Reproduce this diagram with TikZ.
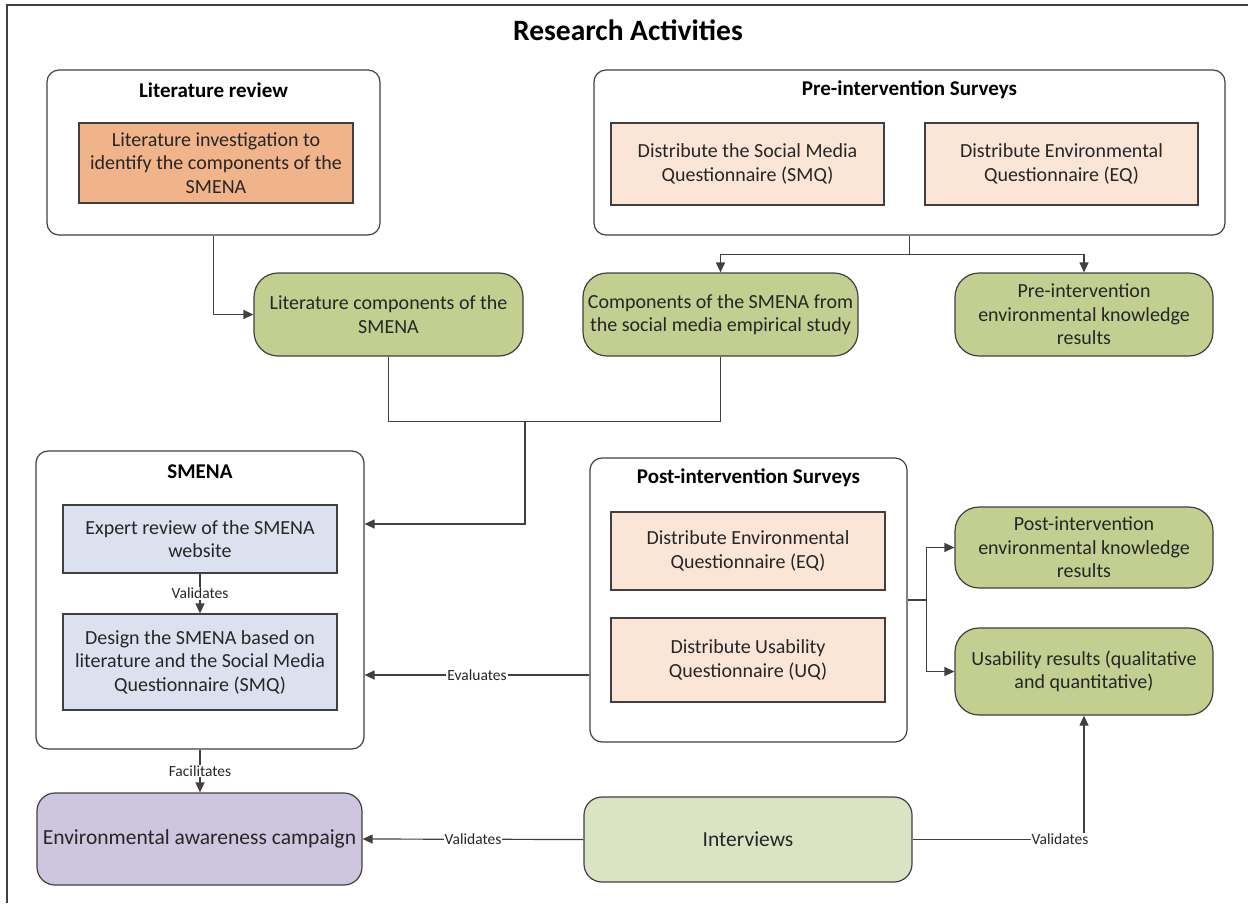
\documentclass[tikz,border=0pt]{standalone}
\usepackage{fontspec}
\setmainfont{Carlito}
\usetikzlibrary{arrows.meta}

\definecolor{linegray}{RGB}{64,64,64}
\definecolor{litorange}{RGB}{241,180,138}
\definecolor{peach}{RGB}{251,229,214}
\definecolor{resgreen}{RGB}{194,207,145}
\definecolor{smenablue}{RGB}{219,225,238}
\definecolor{campurple}{RGB}{205,198,222}
\definecolor{intgreen}{RGB}{218,228,196}

\begin{document}
\begin{tikzpicture}[x=1pt,y=-1pt,
    group/.style={draw=linegray,line width=1.2pt,rounded corners=12pt,fill=white,inner sep=0pt},
    grouptitle/.style={font=\fontsize{21}{25}\selectfont\bfseries},
    task/.style={draw=linegray,line width=1.2pt,align=center,inner sep=2pt,text=black!85,font=\fontsize{20}{23.5}\selectfont},
    result/.style={task,rounded corners=24pt,fill=resgreen},
    lbl/.style={fill=white,inner sep=1pt,text=black!85,font=\fontsize{15.5}{18}\selectfont},
    con/.style={draw=linegray,line width=1.2pt},
    arr/.style={con,-{Triangle[length=10pt,width=9pt]}}]
  \useasboundingbox (0,0) rectangle (1248,903);
  \draw[con] (7,903) -- (7,5) -- (1248,5);
  \node[font=\fontsize{29.5}{34}\selectfont\bfseries] (title) at (628,30) {Research Activities};

  % top groups
  \node[group,minimum width=333pt,minimum height=165pt] (litrev) at (213.5,152.5) {};
  \node[grouptitle] (litrevt) at (213.5,90) {Literature review};
  \node[task,fill=litorange,minimum width=274pt,minimum height=80pt] (litinv) at (216,163)
    {Literature investigation to\\identify the components of the\\SMENA};
  \node[group,minimum width=631pt,minimum height=165pt] (pre) at (909.5,152.5) {};
  \node[grouptitle] (pret) at (909.5,90) {Pre-intervention Surveys};
  \node[task,fill=peach,minimum width=273pt,minimum height=82pt] (smq) at (747.5,164)
    {Distribute the Social Media\\Questionnaire (SMQ)};
  \node[task,fill=peach,minimum width=273pt,minimum height=82pt] (eq) at (1061.5,164)
    {Distribute Environmental\\Questionnaire (EQ)};

  % results
  \node[result,minimum width=269pt,minimum height=83pt] (litc) at (388.5,314.5)
    {Literature components of the\\SMENA};
  \node[result,minimum width=275pt,minimum height=83pt] (comp) at (720.5,314.5)
    {Components of the SMENA from\\the social media empirical study};
  \node[result,minimum width=258pt,minimum height=83pt] (preres) at (1084,314.5)
    {Pre-intervention\\environmental knowledge\\results};

  % SMENA
  \node[group,minimum width=328pt,minimum height=298pt] (smena) at (200,600) {};
  \node[grouptitle] (smenat) at (200,472) {SMENA};
  \node[task,fill=smenablue,minimum width=274pt,minimum height=68pt] (expert) at (200,539)
    {Expert review of the SMENA\\website};
  \node[task,fill=smenablue,minimum width=274pt,minimum height=96pt] (design) at (200,662)
    {Design the SMENA based on\\literature and the Social Media\\Questionnaire (SMQ)};

  % post surveys
  \node[group,minimum width=317pt,minimum height=284pt] (post) at (748.5,600) {};
  \node[grouptitle] (postt) at (748.5,478) {Post-intervention Surveys};
  \node[task,fill=peach,minimum width=274pt,minimum height=78pt] (peq) at (748,551)
    {Distribute Environmental\\Questionnaire (EQ)};
  \node[task,fill=peach,minimum width=274pt,minimum height=84pt] (puq) at (748,660)
    {Distribute Usability\\Questionnaire (UQ)};
  \node[result,minimum width=258pt,minimum height=81pt] (postres) at (1084,547.5)
    {Post-intervention\\environmental knowledge\\results};
  \node[result,minimum width=258pt,minimum height=87pt] (usab) at (1084,671.5)
    {Usability results (qualitative\\and quantitative)};

  % bottom row
  \node[task,rounded corners=18pt,fill=campurple,minimum width=325pt,minimum height=92pt,
    font=\fontsize{21.5}{25}\selectfont] (camp) at (199.5,839) {Environmental awareness campaign};
  \node[task,rounded corners=18pt,fill=intgreen,minimum width=328pt,minimum height=85pt,
    font=\fontsize{21.5}{25}\selectfont] (intv) at (748,839.5) {Interviews};

  % connectors
  \draw[arr] (litrev.south) |- (litc.west);
  \draw[con] (pre.south) -- ++(0,19) coordinate (prej);
  \draw[arr] (prej) -| (comp.north);
  \draw[arr] (prej) -| (preres.north);
  \draw[con] (litc.south) -- ++(0,65) -| (comp.south);
  \coordinate (join) at (525,421);
  \draw[arr] (join) |- (smena.east |- 0,524);
  \draw[arr] (expert.south) -- node[lbl] {Validates} (design.north);
  \draw[arr] (post.west |- 0,675) -- node[lbl] {Evaluates} (smena.east |- 0,675);
  \draw[con] (post.east) -- ++(19,0) coordinate (postj);
  \draw[arr] (postj) |- (postres.west);
  \draw[arr] (postj) |- (usab.west);
  \draw[arr] (smena.south) -- node[lbl] {Facilitates} (smena.south |- camp.north);
  \draw[arr] (intv.west) -- node[lbl] {Validates} (camp.east);
  \draw[arr] (intv.east) -| node[lbl,pos=0.43] {Validates} (usab.south);
\end{tikzpicture}
\end{document}
